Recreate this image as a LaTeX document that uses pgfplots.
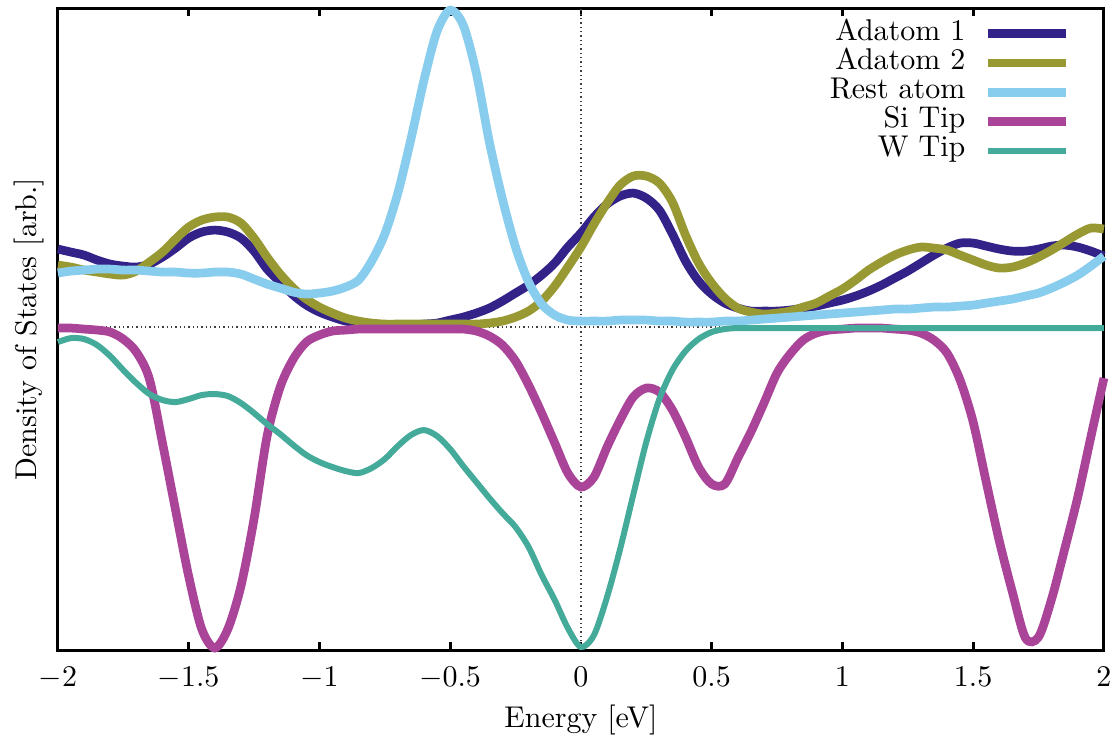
\documentclass[border=0pt]{standalone}
\usepackage{pgfplots}
\pgfplotsset{compat=1.18}
\usepackage{pgfplotstable}
\definecolor{cIndigo}{HTML}{332288}
\definecolor{cOlive}{HTML}{999933}
\definecolor{cCyan}{HTML}{88CCEE}
\definecolor{cPurple}{HTML}{AA4499}
\definecolor{cTeal}{HTML}{44AA99}

\pgfplotstableread{
x y
-2.00 78
-1.95 75
-1.90 72
-1.85 67
-1.80 63
-1.75 61
-1.70 60
-1.65 63
-1.60 70
-1.55 79
-1.50 89
-1.45 95
-1.40 97
-1.35 95
-1.30 89
-1.25 76
-1.20 58
-1.15 45
-1.10 32
-1.05 22
-1.00 15
-0.95 10
-0.90 6
-0.85 4
-0.80 3
-0.75 2
-0.70 2
-0.65 2
-0.60 3
-0.55 4
-0.50 7
-0.45 10
-0.40 14
-0.35 19
-0.30 26
-0.25 34
-0.20 42
-0.15 52
-0.10 64
-0.05 80
0.00 94
0.05 110
0.10 123
0.15 131
0.20 134
0.25 129
0.30 117
0.35 93
0.40 66
0.45 46
0.50 33
0.55 24
0.60 19
0.65 16
0.70 16
0.75 16
0.80 17
0.85 19
0.90 21
0.95 24
1.00 27
1.05 31
1.10 36
1.15 42
1.20 49
1.25 56
1.30 64
1.35 72
1.40 79
1.45 84
1.50 84
1.55 81
1.60 78
1.65 76
1.70 76
1.75 78
1.80 81
1.85 82
1.90 80
1.95 76
2.00 71
}\adatomA

\pgfplotstableread{
x y
-2.00 62
-1.95 60
-1.90 57
-1.85 55
-1.80 53
-1.75 52
-1.70 56
-1.65 65
-1.60 75
-1.55 88
-1.50 100
-1.45 107
-1.40 110
-1.35 110
-1.30 104
-1.25 89
-1.20 70
-1.15 53
-1.10 39
-1.05 28
-1.00 20
-0.95 14
-0.90 9
-0.85 6
-0.80 4
-0.75 3
-0.70 3
-0.65 3
-0.60 3
-0.55 3
-0.50 3
-0.45 3
-0.40 3
-0.35 4
-0.30 6
-0.25 10
-0.20 16
-0.15 26
-0.10 41
-0.05 60
0.00 80
0.05 103
0.10 124
0.15 142
0.20 151
0.25 151
0.30 144
0.35 125
0.40 92
0.45 64
0.50 44
0.55 29
0.60 19
0.65 15
0.70 13
0.75 14
0.80 16
0.85 20
0.90 24
0.95 31
1.00 38
1.05 47
1.10 57
1.15 65
1.20 72
1.25 77
1.30 80
1.35 79
1.40 77
1.45 72
1.50 67
1.55 62
1.60 59
1.65 60
1.70 64
1.75 70
1.80 77
1.85 85
1.90 93
1.95 99
2.00 98
}\adatomB

\pgfplotstableread{
x y
-2.00 54
-1.95 56
-1.90 57
-1.85 58
-1.80 58
-1.75 57
-1.70 57
-1.65 56
-1.60 55
-1.55 55
-1.50 54
-1.45 54
-1.40 55
-1.35 55
-1.30 53
-1.25 48
-1.20 43
-1.15 39
-1.10 35
-1.05 33
-1.00 34
-0.95 36
-0.90 40
-0.85 47
-0.80 66
-0.75 93
-0.70 134
-0.65 188
-0.60 247
-0.55 296
-0.50 317
-0.45 302
-0.40 254
-0.35 185
-0.30 128
-0.25 80
-0.20 45
-0.15 23
-0.10 12
-0.05 7
0.00 6
0.05 6
0.10 6
0.15 7
0.20 7
0.25 7
0.30 6
0.35 6
0.40 5
0.45 5
0.50 5
0.55 6
0.60 6
0.65 7
0.70 8
0.75 9
0.80 10
0.85 11
0.90 12
0.95 13
1.00 14
1.05 15
1.10 16
1.15 17
1.20 18
1.25 18
1.30 19
1.35 20
1.40 20
1.45 21
1.50 22
1.55 24
1.60 26
1.65 28
1.70 31
1.75 34
1.80 39
1.85 45
1.90 52
1.95 61
2.00 71
}\restatom

\pgfplotstableread{
x y
-2.00 -1
-1.95 -1
-1.90 -2
-1.85 -3
-1.80 -5
-1.75 -12
-1.70 -25
-1.65 -52
-1.60 -116
-1.55 -183
-1.50 -249
-1.45 -302
-1.40 -321
-1.35 -302
-1.30 -259
-1.25 -192
-1.20 -109
-1.15 -60
-1.10 -32
-1.05 -15
-1.00 -8
-0.95 -4
-0.90 -3
-0.85 -2
-0.80 -2
-0.75 -2
-0.70 -2
-0.65 -2
-0.60 -2
-0.55 -2
-0.50 -2
-0.45 -2
-0.40 -4
-0.35 -9
-0.30 -18
-0.25 -34
-0.20 -58
-0.15 -86
-0.10 -116
-0.05 -146
0.00 -160
0.05 -150
0.10 -120
0.15 -93
0.20 -70
0.25 -61
0.30 -65
0.35 -83
0.40 -110
0.45 -140
0.50 -157
0.55 -157
0.60 -131
0.65 -105
0.70 -76
0.75 -46
0.80 -27
0.85 -13
0.90 -6
0.95 -3
1.00 -2
1.05 -1
1.10 -1
1.15 -1
1.20 -2
1.25 -3
1.30 -6
1.35 -13
1.40 -26
1.45 -53
1.50 -95
1.55 -155
1.60 -214
1.65 -265
1.70 -311
1.75 -310
1.80 -272
1.85 -222
1.90 -170
1.95 -110
2.00 -51
}\sitip

\pgfplotstableread{
x y
-2.00 -15
-1.95 -11
-1.90 -12
-1.85 -18
-1.80 -29
-1.75 -43
-1.70 -56
-1.65 -67
-1.60 -73
-1.55 -75
-1.50 -72
-1.45 -68
-1.40 -67
-1.35 -69
-1.30 -76
-1.25 -86
-1.20 -97
-1.15 -107
-1.10 -118
-1.05 -128
-1.00 -135
-0.95 -140
-0.90 -144
-0.85 -146
-0.80 -141
-0.75 -132
-0.70 -119
-0.65 -108
-0.60 -103
-0.55 -109
-0.50 -122
-0.45 -139
-0.40 -155
-0.35 -171
-0.30 -186
-0.25 -200
-0.20 -220
-0.15 -248
-0.10 -273
-0.05 -301
0.00 -320
0.05 -308
0.10 -270
0.15 -222
0.20 -168
0.25 -115
0.30 -72
0.35 -43
0.40 -24
0.45 -12
0.50 -5
0.55 -2
0.60 -1
0.70 -1
0.80 -1
0.90 -1
1.00 -1
1.10 -1
1.20 -1
1.30 -1
1.40 -1
1.50 -1
1.60 -1
1.70 -1
1.80 -1
1.90 -1
2.00 -1
}\wtip

\begin{document}
\begin{tikzpicture}
\begin{axis}[
  scale only axis,
  width=348.7pt, height=214pt,
  xmin=-2, xmax=2, ymin=-323, ymax=319,
  clip=false,
  xtick={-2,-1.5,...,2},
  ytick=\empty,
  tick align=inside,
  xtick pos=both,
  major tick length=2.6pt,
  every tick/.style={black, line width=0.9pt},
  axis line style={line width=1pt},
  xticklabel style={anchor=base, yshift=-12pt},
  xlabel={Energy [eV]},
  xlabel style={at={(axis description cs:0.5,0)}, anchor=base, yshift=-25.7pt},
  ylabel={Density of States [arb.]},
  ylabel style={at={(axis description cs:-0.0201,0.5)}, anchor=base, rotate=0},
  legend plot pos=right,
  legend cell align=right,
  legend image code/.code={\draw[#1] (0pt,0pt) -- (26pt,0pt);},
  legend style={draw=none, fill=none, inner sep=0pt, outer sep=0pt,
    at={(axis description cs:1,1)}, anchor=north east,
    xshift=-11.3pt, yshift=-3.7pt,
    row sep=0pt, column sep=6pt,
    nodes={inner sep=0pt, text height=6.94pt, text depth=2.79pt}},
]
\addplot[black!75, line width=0.4pt, dash pattern=on 0.45pt off 1pt, forget plot] coordinates {(-2,0) (2,0)};
\addplot[black!75, line width=0.4pt, dash pattern=on 0.45pt off 1pt, forget plot] coordinates {(0,-323) (0,319)};
\addplot[cIndigo, line width=2.9pt, smooth] table {\adatomA};
\addlegendentry{Adatom 1}
\addplot[cOlive, line width=2.9pt, smooth] table {\adatomB};
\addlegendentry{Adatom 2}
\addplot[cCyan, line width=2.9pt, smooth] table {\restatom};
\addlegendentry{Rest atom}
\addplot[cPurple, line width=2.9pt, smooth] table {\sitip};
\addlegendentry{Si Tip}
\addplot[cTeal, line width=2pt, smooth] table {\wtip};
\addlegendentry{W Tip}
\end{axis}
\pgfresetboundingbox
\path ([shift={(-19.3pt,-29.3pt)}]current axis.south west) rectangle ([shift={(3.7pt,2.7pt)}]current axis.north east);
\end{tikzpicture}
\end{document}
